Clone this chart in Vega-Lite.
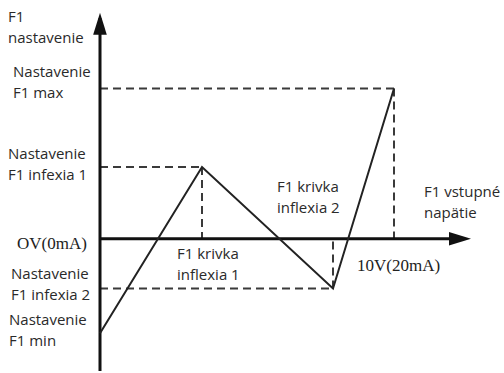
{
  "$schema": "https://vega.github.io/schema/vega-lite/v6.json",
  "width": 504,
  "height": 373,
  "padding": 0,
  "autosize": {"type": "fit", "contains": "padding"},
  "background": "white",
  "config": {"view": {"stroke": null}},
  "datasets": {
    "curve": [
      {"step": 1, "u": 0, "f": -95},
      {"step": 2, "u": 102, "f": 72},
      {"step": 3, "u": 233, "f": -50},
      {"step": 4, "u": 294, "f": 151}
    ],
    "guides": [
      {"u": 0, "f": 151, "u2": 294, "f2": 151},
      {"u": 294, "f": 151, "u2": 294, "f2": 0},
      {"u": 0, "f": 72, "u2": 102, "f2": 72},
      {"u": 102, "f": 72, "u2": 102, "f2": 0},
      {"u": 0, "f": -50, "u2": 233, "f2": -50},
      {"u": 233, "f": -50, "u2": 233, "f2": 0}
    ],
    "axes": [
      {"u": 0, "f": -133, "u2": 0, "f2": 222},
      {"u": 0, "f": 0, "u2": 355, "f2": 0}
    ],
    "arrowY": [{"u": 0, "f": 216}],
    "arrowX": [{"u": 360, "f": 0}],
    "labels": [
      {"u": -92, "f": 230, "label": "F1\nnastavenie"},
      {"u": -87, "f": 175, "label": "Nastavenie\nF1 max"},
      {"u": -92, "f": 92, "label": "Nastavenie\nF1 infexia 1"},
      {"u": -89, "f": -28, "label": "Nastavenie\nF1 infexia 2"},
      {"u": -91, "f": -75, "label": "Nastavenie\nF1 min"},
      {"u": 77, "f": -8, "label": "F1 krivka\ninflexia 1"},
      {"u": 177, "f": 59, "label": "F1 krivka\ninflexia 2"},
      {"u": 324, "f": 54, "label": "F1 vstupné\nnapätie"}
    ],
    "serifLabels": [
      {"u": -83, "f": -10, "label": "OV(0mA)"},
      {"u": 257, "f": -32, "label": "10V(20mA)"}
    ]
  },
  "encoding": {
    "x": {"field": "u", "type": "quantitative", "axis": null, "scale": {"domain": [-100, 404], "nice": false, "zero": false}},
    "y": {"field": "f", "type": "quantitative", "axis": null, "scale": {"domain": [-133, 240], "nice": false, "zero": false}}
  },
  "layer": [
    {
      "data": {"name": "guides"},
      "mark": {"type": "rule", "stroke": "#3a3a3a", "strokeWidth": 2, "strokeDash": [8, 5]},
      "encoding": {"x2": {"field": "u2"}, "y2": {"field": "f2"}}
    },
    {
      "data": {"name": "axes"},
      "mark": {"type": "rule", "stroke": "#111111", "strokeWidth": 3},
      "encoding": {"x2": {"field": "u2"}, "y2": {"field": "f2"}}
    },
    {
      "data": {"name": "arrowY"},
      "mark": {"type": "point", "shape": "M0,-1L0.62,1L-0.62,1Z", "size": 484, "filled": true, "color": "#111111", "opacity": 1}
    },
    {
      "data": {"name": "arrowX"},
      "mark": {"type": "point", "shape": "M1,0L-1,-0.62L-1,0.62Z", "size": 484, "filled": true, "color": "#111111", "opacity": 1}
    },
    {
      "data": {"name": "curve"},
      "mark": {"type": "line", "stroke": "#222222", "strokeWidth": 2},
      "encoding": {"order": {"field": "step", "type": "quantitative"}}
    },
    {
      "data": {"name": "labels"},
      "mark": {"type": "text", "align": "left", "baseline": "top", "font": "Open Sans", "fontSize": 15, "lineBreak": "\n", "lineHeight": 21, "color": "#2a2a2a"},
      "encoding": {"text": {"field": "label"}}
    },
    {
      "data": {"name": "serifLabels"},
      "mark": {"type": "text", "align": "left", "baseline": "alphabetic", "font": "Liberation Serif", "fontSize": 17, "color": "#222222"},
      "encoding": {"text": {"field": "label"}}
    }
  ]
}
